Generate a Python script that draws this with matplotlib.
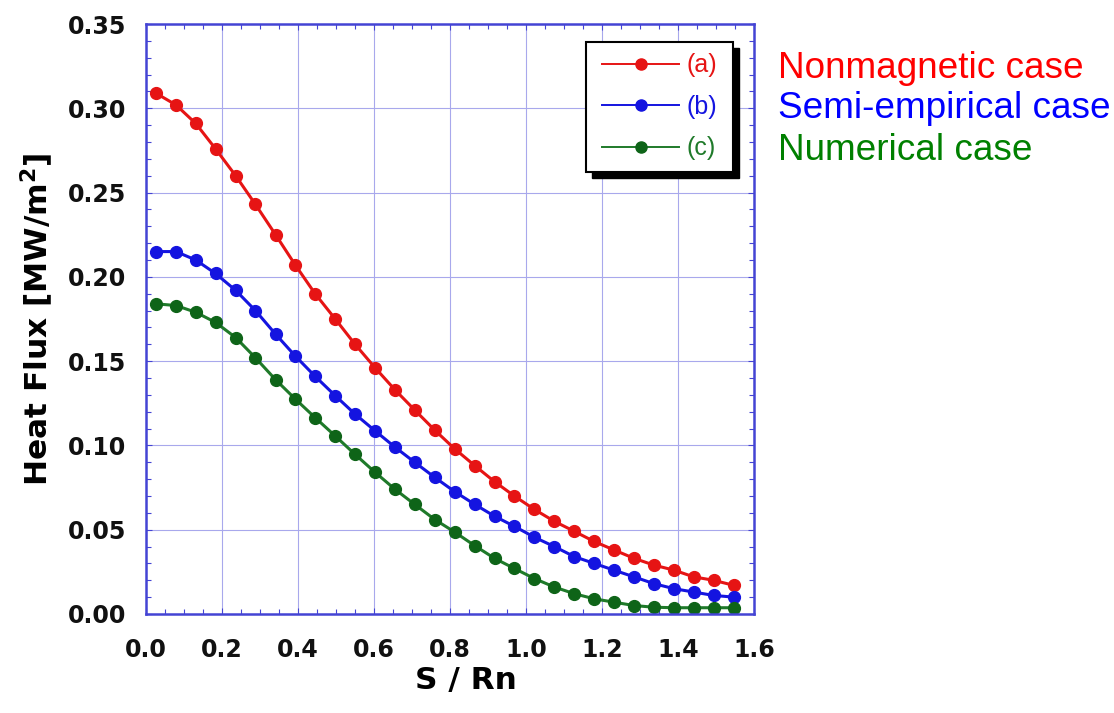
import matplotlib
matplotlib.use("Agg")
import matplotlib.pyplot as plt
from matplotlib.ticker import MultipleLocator
from matplotlib.patches import Rectangle

# S / Rn positions of the computed points
s_rn = [0.026, 0.079, 0.131, 0.183, 0.236, 0.288, 0.341, 0.393, 0.445, 0.498,
        0.550, 0.603, 0.655, 0.707, 0.760, 0.812, 0.865, 0.917, 0.969, 1.022,
        1.074, 1.127, 1.179, 1.231, 1.284, 1.336, 1.389, 1.441, 1.493, 1.546]

# heat flux [MW/m2]
flux_a = [0.309, 0.302, 0.291, 0.276, 0.260, 0.243, 0.225, 0.207, 0.190, 0.175,
          0.160, 0.146, 0.133, 0.121, 0.109, 0.098, 0.088, 0.0785, 0.070, 0.062,
          0.055, 0.049, 0.043, 0.038, 0.033, 0.029, 0.026, 0.022, 0.020, 0.017]
flux_b = [0.215, 0.215, 0.210, 0.202, 0.192, 0.180, 0.166, 0.153, 0.141, 0.1295,
          0.1186, 0.1086, 0.099, 0.090, 0.081, 0.0726, 0.065, 0.058, 0.052, 0.0455,
          0.040, 0.034, 0.030, 0.026, 0.022, 0.018, 0.015, 0.013, 0.011, 0.010]
flux_c = [0.184, 0.183, 0.179, 0.173, 0.164, 0.152, 0.139, 0.1275, 0.1165, 0.1056,
          0.0947, 0.084, 0.074, 0.065, 0.056, 0.0486, 0.0405, 0.033, 0.027, 0.021,
          0.016, 0.012, 0.009, 0.007, 0.005, 0.004, 0.0037, 0.0037, 0.0037, 0.0037]

labels = ["(a)", "(b)", "(c)"]
cases = ["Nonmagnetic case", "Semi-empirical case", "Numerical case"]

fig = plt.figure(figsize=(11.14, 7.13), dpi=100)
ax = fig.add_axes([0.131, 0.1389, 0.546, 0.8274])

blue_axis = "#4444d4"
ax.plot(s_rn, flux_a, "-o", color="#e61414", ms=8.5, lw=2.2, label=labels[0])
ax.plot(s_rn, flux_b, "-o", color="#1414e0", ms=8.5, lw=2.2, label=labels[1])
ax.plot(s_rn, flux_c, "-o", color="#1f7a2a", mfc="#0e6418", mec="#0e6418",
        ms=8.5, lw=2.2, label=labels[2])

ax.set_xlim(0, 1.6)
ax.set_ylim(0, 0.35)
ax.xaxis.set_major_locator(MultipleLocator(0.2))
ax.xaxis.set_minor_locator(MultipleLocator(0.05))
ax.yaxis.set_major_locator(MultipleLocator(0.05))
ax.yaxis.set_minor_locator(MultipleLocator(0.01))
ax.xaxis.set_major_formatter(lambda v, p: f"{v:.1f}")
ax.yaxis.set_major_formatter(lambda v, p: f"{v:.2f}")

ax.grid(True, which="major", color="#a8a8ec", lw=0.8)
ax.set_axisbelow(True)
for sp in ax.spines.values():
    sp.set_color(blue_axis)
    sp.set_linewidth(1.8)

ax.tick_params(which="both", direction="in", top=True, right=True, color=blue_axis)
ax.tick_params(which="major", length=4, width=0.8)
ax.tick_params(which="minor", length=3.5, width=0.8)
ax.tick_params(axis="x", which="major", pad=17)
ax.tick_params(axis="y", which="major", pad=14)
for t in ax.get_xticklabels() + ax.get_yticklabels():
    t.set_fontfamily("DejaVu Sans")
    t.set_fontweight("bold")
    t.set_fontsize(17)
    t.set_color("#111111")

ax.set_xlabel("S / Rn", fontsize=22.5, fontweight="bold", family="DejaVu Sans", va="center")
ax.xaxis.set_label_coords(0.526, -0.112)
ax.set_ylabel("Heat Flux [MW/m$^\\mathbf{2}$]", fontsize=22.5, fontweight="bold",
              family="DejaVu Sans", labelpad=9)

# legend without its own frame; frame and shadow drawn by hand below
leg = ax.legend(loc="upper right", bbox_to_anchor=(0.957, 0.9695), borderaxespad=0,
                frameon=False, labelcolor="linecolor",
                prop={"family": "Liberation Sans", "size": 18}, handlelength=3.05,
                handletextpad=0.3, borderpad=0.45, labelspacing=0.7)
leg.set_zorder(6)
for ln in leg.get_lines():
    ln.set_linewidth(1.4)
    ln.set_markersize(8)

fig.canvas.draw()
bb = leg.get_window_extent(fig.canvas.get_renderer())
bb = bb.transformed(ax.transAxes.inverted())
px = 1 / ax.bbox.width
py = 1 / ax.bbox.height
x0, y0 = bb.x0 - 5 * px, bb.y0
w, h = bb.width + 10 * px, bb.height
ax.add_patch(Rectangle((x0 + 6 * px, y0 - 6 * py), w, h, transform=ax.transAxes,
                       facecolor="black", edgecolor="black", zorder=5.4))
ax.add_patch(Rectangle((x0, y0), w, h, transform=ax.transAxes,
                       facecolor="white", edgecolor="black", lw=1.5, zorder=5.5))

case_colors = ["#ff0000", "#0000ff", "#008000"]
case_y = [0.8906, 0.8345, 0.7756]
for txt, c, y in zip(cases, case_colors, case_y):
    fig.text(0.698, y, txt, color=c, fontsize=26.6, family="Liberation Sans", va="baseline")

fig.savefig("out.png", dpi=100)
